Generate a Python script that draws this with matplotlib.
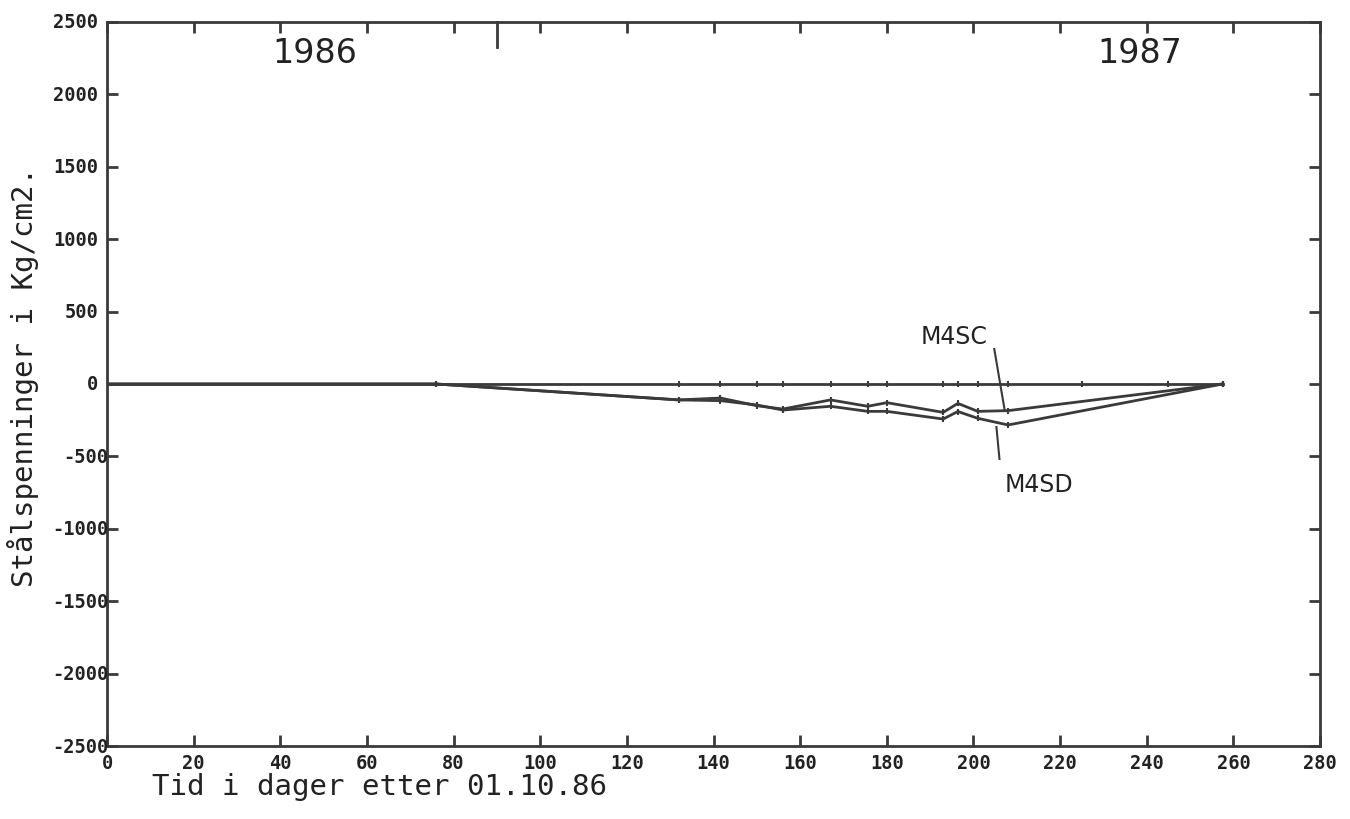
import matplotlib.pyplot as plt
import numpy as np

# dager etter 01.10.86
dager = [0, 76, 132, 141.6, 150, 156, 167, 175.6, 180, 193, 196.4, 201, 208, 257.5]
m4sc = [0, 0, -110, -97, -150, -173, -110, -154, -129, -196, -134, -189, -184, 0]
m4sd = [0, 0, -110, -115, -145, -180, -154, -189, -189, -242, -190, -237, -283, 0]
null_x = [0, 76, 132, 141.6, 150, 156, 167, 175.6, 180, 193, 196.4, 201, 208, 225, 245, 257.5]
null_y = [0] * len(null_x)

xticks = np.arange(0, 281, 20)
yticks = np.arange(-2500, 2501, 500)

col = "#3a3a3a"
txt = "#222222"
mono = "DejaVu Sans Mono"

fig = plt.figure(figsize=[13.5, 8.2], dpi=100)
ax = fig.add_axes([0.0793, 0.089, 0.9778 - 0.0793, 0.972 - 0.089])

ax.plot(null_x, null_y, color=col, lw=2, marker="|", ms=4, mew=1.5)
ax.plot(dager, m4sc, color=col, lw=2, marker="|", ms=4, mew=1.5)
ax.plot(dager, m4sd, color=col, lw=2, marker="|", ms=4, mew=1.5)

ax.set_xlim(0, 280)
ax.set_ylim(-2500, 2500)
ax.set_xticks(xticks)
ax.set_yticks(yticks)
ax.set_yticklabels([])
ax.tick_params(direction="in", length=8, width=2, color=col,
               top=True, right=True, labelsize=13.5, pad=5)
for lab in ax.get_xticklabels():
    lab.set_family(mono)
    lab.set_fontweight("bold")
    lab.set_color(txt)
for s in ax.spines.values():
    s.set_linewidth(2)
    s.set_color(col)

# y-verdier: negative tall forskjoevet mot aksen som paa plotteren
for v in yticks:
    dx = 1 if v < 0 else -9
    ax.annotate(str(v), xy=(0, v), xycoords=("axes fraction", "data"),
                xytext=(dx * 0.72, 0), textcoords="offset points",
                ha="right", va="center", fontsize=13.5, family=mono,
                fontweight="bold", color=txt)

# aarsskifte
ax.plot([90, 90], [2500, 2330], color=col, lw=2, clip_on=False)

# aarstall
ax.text(48, 2290, "1986", fontsize=24, color=txt, ha="center", va="center")
ax.text(238.5, 2290, "1987", fontsize=24, color=txt, ha="center", va="center")

# serienavn
ax.plot([204.8, 207.2], [242, -180], color=col, lw=1.5)
ax.text(195.6, 331, "M4SC", fontsize=17, color=txt, ha="center", va="center")
ax.plot([205.3, 206], [-297, -518], color=col, lw=1.5)
ax.text(215.2, -690, "M4SD", fontsize=17, color=txt, ha="center", va="center")

fig.text(0.017, 0.54, "Stålspenninger i Kg/cm2.", rotation=90, fontsize=21,
         family=mono, color=txt, ha="center", va="center")
fig.text(0.281, 0.040, "Tid i dager etter 01.10.86", fontsize=21,
         family=mono, color=txt, ha="center", va="center")

fig.savefig("out.png", dpi=100)
